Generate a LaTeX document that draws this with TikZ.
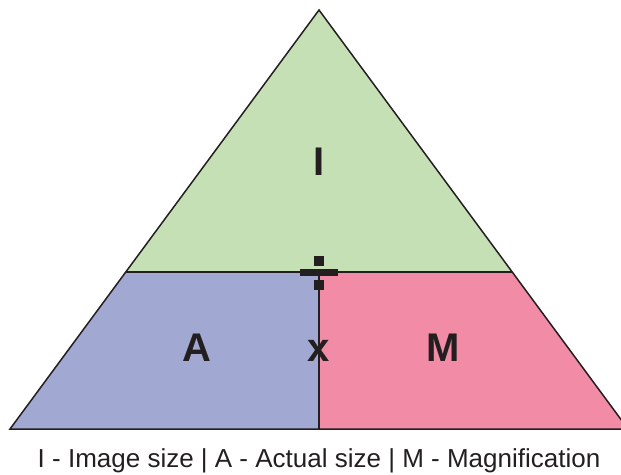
\documentclass[tikz,border=0pt]{standalone}
\usepackage{fontspec}
\setmainfont{Liberation Sans}
\usetikzlibrary{positioning,calc}
\definecolor{imgGreen}{RGB}{198,224,182}
\definecolor{actBlue}{RGB}{161,168,210}
\definecolor{magPink}{RGB}{242,139,166}
\definecolor{inkDark}{RGB}{35,31,32}

\begin{document}
\begin{tikzpicture}[x=1pt, y=-1pt,
    edge/.style={draw=inkDark, line width=1.5pt, line join=miter},
    letter/.style={font=\fontsize{40}{40}\selectfont\bfseries, text=inkDark},
    signbox/.style={fill=inkDark, draw=none}]
\useasboundingbox (0,0) rectangle (621,474);

% corners of the triangle
\coordinate (apex) at (319,10);
\coordinate (bl) at (10,429);
\coordinate (br) at (628,429);
\coordinate (ml) at ($(apex)!0.6253!(bl)$);
\coordinate (mr) at ($(apex)!0.6253!(br)$);
\coordinate (mid) at (319,272);
\coordinate (bm) at (319,429);

% coloured parts
\fill[imgGreen] (apex) -- (ml) -- (mr) -- cycle;
\fill[actBlue] (ml) -- (mid) -- (bm) -- (bl) -- cycle;
\fill[magPink] (mid) -- (mr) -- (br) -- (bm) -- cycle;

% outlines
\draw[edge] (apex) -- (bl) -- (br) -- cycle;
\draw[edge] (ml) -- (mr);
\draw[edge] (mid) -- (bm);

% division sign
\fill[signbox] (300,269) rectangle (338,275.5);
\fill[signbox] (314,256) rectangle (324,266);
\fill[signbox] (314,280) rectangle (324,290);

% labels
\node[letter] (image) at (319,162) {I};
\node[letter] (actual) at (197,348) {A};
\node[letter, inner sep=1pt] (times) at (319,351) {x};
\node[letter] (magn) at (443,348) {M};

\node[font=\fontsize{26}{26}\selectfont, text=inkDark] (caption) at (319,461)
    {I - Image size | A - Actual size | M - Magnification};
\end{tikzpicture}
\end{document}
